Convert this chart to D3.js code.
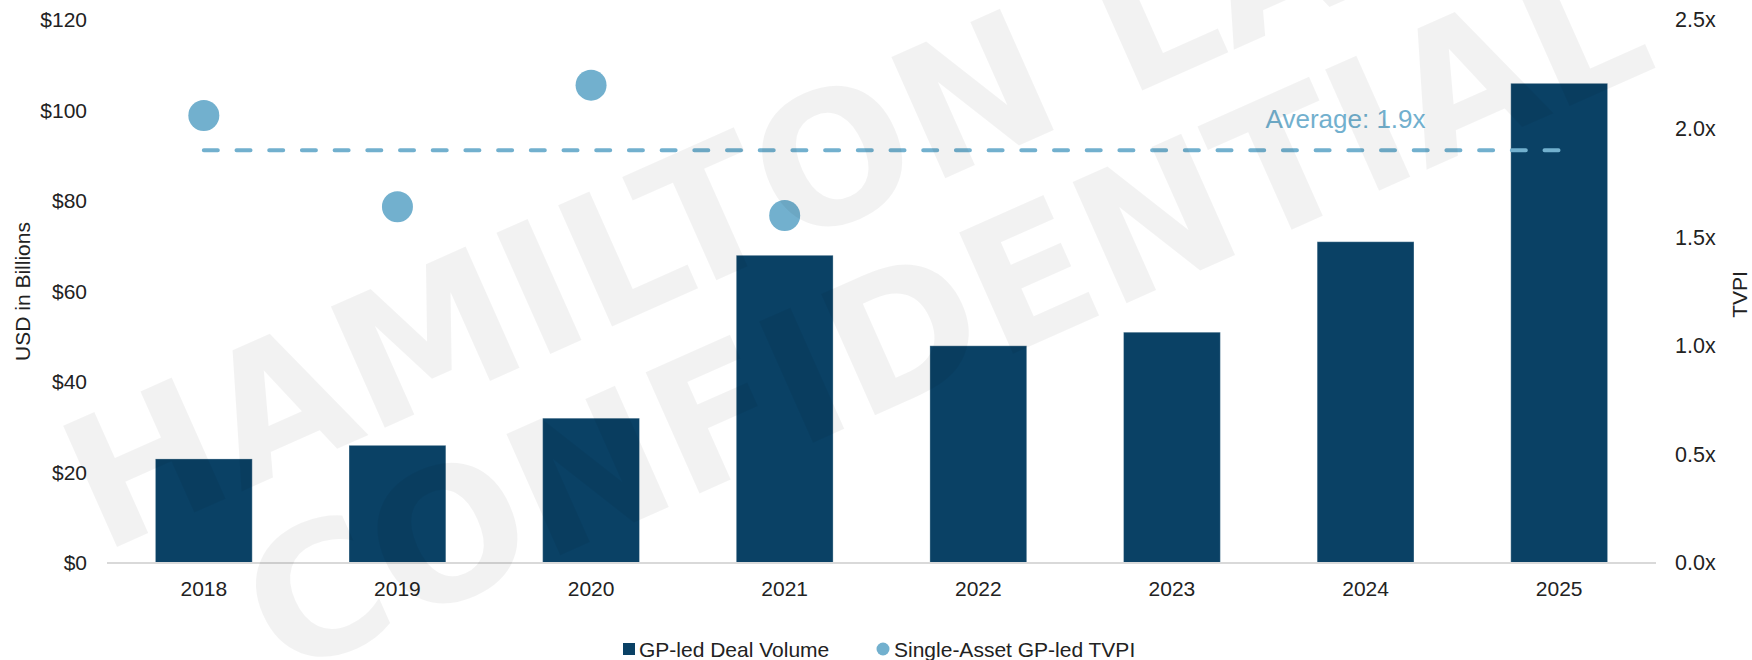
<!DOCTYPE html>
<html>
<head>
<meta charset="utf-8">
<script src="https://cdn.jsdelivr.net/npm/d3@7"></script>
<style>
  html, body { margin: 0; padding: 0; background: #ffffff; }
  svg { display: block; font-family: "Liberation Sans", Arial, sans-serif; }
</style>
</head>
<body>
<svg id="chart" width="1752" height="660"></svg>
<script>
// Chart data
const years = ["2018", "2019", "2020", "2021", "2022", "2023", "2024", "2025"];
const dealVolume = [23, 26, 32, 68, 48, 51, 71, 106];          // USD billions
const tvpiYears = ["2018", "2019", "2020", "2021"];
const tvpiValues = [2.06, 1.64, 2.20, 1.60];                    // multiple
const averageTvpi = 1.9;
const leftTicks = [0, 20, 40, 60, 80, 100, 120];
const rightTicks = [0, 0.5, 1.0, 1.5, 2.0, 2.5];
const legendLabels = ["GP-led Deal Volume", "Single-Asset GP-led TVPI"];
const watermarkLines = ["HAMILTON LANE", "CONFIDENTIAL"];

const barColor = "#0a4165";
const dotColor = "#72b0ce";
const textColor = "#222";

const svg = d3.select("#chart");
const plot = { left: 107, right: 1656, top: 20, bottom: 563 };

const x = d3.scaleBand().domain(years).range([plot.left, plot.right])
  .paddingInner(0.5).paddingOuter(0.25);
const yL = d3.scaleLinear().domain([0, 120]).range([plot.bottom, plot.top]);
const yR = d3.scaleLinear().domain([0, 2.5]).range([plot.bottom, plot.top]);
const cx = d => x(d) + x.bandwidth() / 2;

function styleTicks(g, size) {
  g.select(".domain").remove();
  g.selectAll("text").attr("font-size", size).attr("fill", textColor)
    .attr("font-family", "Liberation Sans, Arial, sans-serif");
}

// Left axis
svg.append("g")
  .attr("transform", `translate(${plot.left - 20},0)`)
  .call(d3.axisLeft(yL).tickValues(leftTicks).tickSize(0).tickPadding(0)
    .tickFormat(d => "$" + d))
  .call(g => styleTicks(g, 21));

// Right axis
svg.append("g")
  .attr("transform", `translate(${plot.right + 19},0)`)
  .call(d3.axisRight(yR).tickValues(rightTicks).tickSize(0).tickPadding(0)
    .tickFormat(d => d3.format(".1f")(d) + "x"))
  .call(g => styleTicks(g, 21.5));

// Category labels
svg.append("g")
  .attr("transform", `translate(0,${plot.bottom})`)
  .call(d3.axisBottom(x).tickSize(0).tickPadding(18))
  .call(g => styleTicks(g, 21));

// Axis titles
svg.append("text")
  .attr("transform", `translate(22,${(plot.top + plot.bottom) / 2}) rotate(-90)`)
  .attr("text-anchor", "middle").attr("dominant-baseline", "central")
  .attr("font-size", 21).attr("fill", textColor).text("USD in Billions");
svg.append("text")
  .attr("transform", `translate(1739,${(plot.top + plot.bottom) / 2 + 3}) rotate(-90)`)
  .attr("text-anchor", "middle").attr("dominant-baseline", "central")
  .attr("font-size", 21).attr("fill", textColor).text("TVPI");

// Bars
svg.append("g").selectAll("rect").data(years).join("rect")
  .attr("x", d => x(d))
  .attr("width", x.bandwidth())
  .attr("y", (d, i) => yL(dealVolume[i]))
  .attr("height", (d, i) => yL(0) - yL(dealVolume[i]))
  .attr("fill", barColor)
  .attr("stroke", "#ffffff").attr("stroke-opacity", 0.3).attr("stroke-width", 1);

// Baseline
svg.append("line")
  .attr("x1", plot.left).attr("x2", plot.right)
  .attr("y1", yL(0)).attr("y2", yL(0))
  .attr("stroke", "#d9d9d9").attr("stroke-width", 2);

// Average line and label
svg.append("line")
  .attr("x1", cx(years[0])).attr("x2", cx(years[years.length - 1]))
  .attr("y1", yR(averageTvpi)).attr("y2", yR(averageTvpi))
  .attr("stroke", dotColor).attr("stroke-width", 4)
  .attr("stroke-dasharray", "14 18.7").attr("stroke-linecap", "round");

svg.append("text")
  .attr("x", cx("2024") - 100)
  .attr("y", yR(averageTvpi) - 22)
  .attr("font-size", 26).attr("fill", dotColor)
  .text("Average: " + averageTvpi.toFixed(1) + "x");

// TVPI points
svg.append("g").selectAll("circle").data(tvpiYears).join("circle")
  .attr("cx", d => cx(d))
  .attr("cy", (d, i) => yR(tvpiValues[i]))
  .attr("r", 15.5)
  .attr("fill", dotColor);

// Legend
const legend = svg.append("g").attr("font-size", 21).attr("fill", textColor);
legend.append("rect").attr("x", 623).attr("y", 643).attr("width", 12).attr("height", 12)
  .attr("fill", barColor);
legend.append("text").attr("x", 639).attr("y", 649).attr("dominant-baseline", "central")
  .text(legendLabels[0]);
legend.append("circle").attr("cx", 883).attr("cy", 649).attr("r", 6.5).attr("fill", dotColor);
legend.append("text").attr("x", 894).attr("y", 649).attr("dominant-baseline", "central")
  .text(legendLabels[1]);

// Watermark, drawn over the plot
const wm = svg.append("g")
  .attr("transform", "translate(858,217) rotate(-24)")
  .attr("font-family", "DejaVu Sans, sans-serif")
  .attr("font-size", 182).attr("font-weight", "bold")
  .attr("text-anchor", "middle").attr("fill", "#000").attr("fill-opacity", 0.05)
  .style("pointer-events", "none");
wm.selectAll("text").data(watermarkLines).join("text")
  .attr("x", (d, i) => i * 40)
  .attr("y", (d, i) => i * 188)
  .text(d => d);
</script>
</body>
</html>
